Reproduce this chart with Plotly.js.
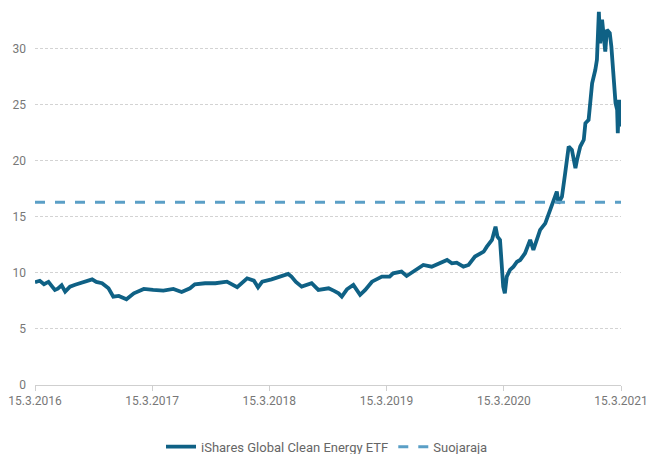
<!DOCTYPE html>
<html>
<head>
<meta charset="utf-8">
<script src="https://cdn.plot.ly/plotly-3.0.1.min.js"></script>
<style>html,body{margin:0;padding:0;background:#fff}#chart{width:654px;height:454px}</style>
</head>
<body>
<div id="chart"></div>
<script>
const dates = [
"2016-03-15","2016-03-30","2016-04-12","2016-04-26","2016-05-07","2016-05-16","2016-05-25","2016-06-06","2016-06-17","2016-07-02",
"2016-07-18","2016-08-03","2016-08-22","2016-09-09","2016-09-22","2016-10-10","2016-10-30","2016-11-14","2016-12-01","2016-12-12",
"2016-12-25","2017-01-17","2017-02-17","2017-03-18","2017-04-19","2017-05-20","2017-06-15","2017-07-11","2017-07-26","2017-08-27",
"2017-09-28","2017-11-03","2017-12-05","2018-01-05","2018-01-26","2018-02-08","2018-02-21","2018-03-22","2018-04-23","2018-05-13",
"2018-05-23","2018-06-06","2018-06-24","2018-07-25","2018-08-15","2018-09-16","2018-10-03","2018-10-17","2018-10-27","2018-11-12",
"2018-12-02","2018-12-23","2019-01-08","2019-01-29","2019-03-01","2019-03-25","2019-04-05","2019-05-01","2019-05-17","2019-06-12",
"2019-07-08","2019-08-03","2019-08-24","2019-09-20","2019-10-05","2019-10-20","2019-11-10","2019-11-26","2019-12-16","2020-01-01",
"2020-01-12","2020-01-22","2020-02-07","2020-02-18","2020-02-24","2020-03-03","2020-03-08","2020-03-13","2020-03-18","2020-03-24",
"2020-04-03","2020-04-14","2020-04-25","2020-05-05","2020-05-20","2020-06-05","2020-06-15","2020-06-26","2020-07-06","2020-07-22",
"2020-08-01","2020-08-12","2020-08-22","2020-08-27","2020-09-01","2020-09-12","2020-09-22","2020-10-03","2020-10-13","2020-10-24",
"2020-10-29","2020-11-08","2020-11-19","2020-11-24","2020-12-04","2020-12-09","2020-12-15","2020-12-25","2020-12-30","2021-01-05",
"2021-01-09","2021-01-15","2021-01-20","2021-01-25","2021-01-30","2021-02-08","2021-02-13","2021-02-21","2021-02-26","2021-03-03",
"2021-03-05","2021-03-09","2021-03-13","2021-03-15"
];
const etfValues = [
9.17,9.3,9.0,9.2,8.8,8.48,8.6,8.9,8.33,8.78,
8.95,9.08,9.25,9.43,9.2,9.08,8.63,7.89,7.95,7.8,
7.65,8.18,8.57,8.48,8.42,8.57,8.3,8.63,8.99,9.08,
9.08,9.22,8.72,9.52,9.31,8.72,9.22,9.43,9.73,9.91,
9.67,9.2,8.78,9.08,8.48,8.63,8.4,8.18,7.89,8.54,
8.93,8.04,8.48,9.22,9.67,9.67,9.97,10.12,9.73,10.27,
10.71,10.56,10.86,11.16,10.86,10.92,10.56,10.71,11.46,11.76,
11.9,12.35,12.95,14.13,13.24,12.95,10.86,8.78,8.18,9.67,
10.27,10.56,11.0,11.16,11.76,12.95,12.05,12.95,13.84,14.43,
15.18,15.92,16.67,17.26,16.22,16.8,18.9,21.28,20.98,19.35,
20.09,21.28,21.88,23.36,23.66,25.15,26.93,28.13,29.02,33.3,
30.5,32.6,31.4,29.76,31.7,31.4,30.2,26.9,25.15,24.55,
22.47,25.45,23.36,23.06
];
const limitDates = ["2016-03-15","2021-03-15"];
const limitValues = [16.3,16.3];
const tickDates = ["2016-03-15","2017-03-15","2018-03-15","2019-03-15","2020-03-15","2021-03-15"];
const tickLabels = ["15.3.2016","15.3.2017","15.3.2018","15.3.2019","15.3.2020","15.3.2021"];
const seriesNames = ["iShares Global Clean Energy ETF","Suojaraja"];

const font = "Roboto, sans-serif";
const data = [
  {x: dates, y: etfValues, type: "scatter", mode: "lines", name: seriesNames[0],
   line: {color: "#0f6185", width: 3.8}},
  {x: limitDates, y: limitValues, type: "scatter", mode: "lines", name: seriesNames[1],
   line: {color: "#5a9fc6", width: 3, dash: "10px,10px"}}
];
const layout = {
  width: 654, height: 454,
  margin: {l: 35, r: 33, t: 4, b: 69, autoexpand: false},
  paper_bgcolor: "#fff", plot_bgcolor: "#fff",
  font: {family: font, size: 12, color: "#777"},
  showlegend: true,
  legend: {orientation: "h", x: 0.5, xanchor: "center", xref: "container",
           y: 0.016, yanchor: "middle", yref: "container",
           font: {family: font, size: 13, color: "#666"}, traceorder: "normal"},
  xaxis: {type: "date", range: ["2016-03-15","2021-03-15"], tickvals: tickDates, ticktext: tickLabels,
          showgrid: false, showline: true, linecolor: "#cfcfcf", linewidth: 1,
          ticks: "outside", ticklen: 5, tickcolor: "#cfcfcf", zeroline: false,
          tickfont: {family: font, size: 12, color: "#777"}},
  yaxis: {range: [0, 34], tickvals: [0,5,10,15,20,25,30], showgrid: true, gridcolor: "#d3d3d3",
          griddash: "3px,2px", gridwidth: 1, zeroline: false, showline: false, ticks: "",
          ticklabelstandoff: 8, tickfont: {family: font, size: 12, color: "#777"}}
};
Plotly.newPlot("chart", data, layout, {displayModeBar: false, staticPlot: true});
</script>
</body>
</html>
